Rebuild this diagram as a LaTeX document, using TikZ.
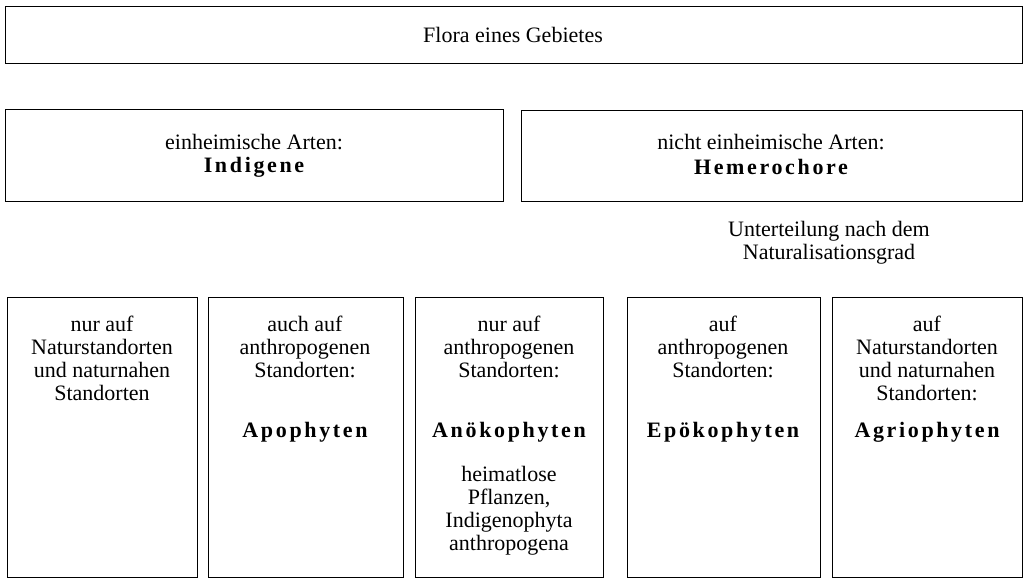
\documentclass[tikz,border=0pt]{standalone}
\usepackage{fontspec}
\setmainfont{Liberation Serif}
\newfontfamily\spacedbold[LetterSpace=12]{Liberation Serif}
\begin{document}
\begin{tikzpicture}[x=1pt,y=-1pt,
  framebox/.style={draw=black, line width=1.1pt, inner sep=0pt, anchor=north west},
  bodytext/.style={inner sep=0pt, align=center, font=\fontsize{22}{23}\selectfont},
  boldname/.style={inner sep=0pt, font=\fontsize{22}{23}\selectfont\spacedbold\bfseries}]
\useasboundingbox[fill=white] (0,0) rectangle (1027,580);
% boxes
\node[framebox, minimum width=1017pt, minimum height=57pt] (flora) at (5,6) {};
\node[framebox, minimum width=498pt, minimum height=92pt] (indig) at (5,109) {};
\node[framebox, minimum width=501pt, minimum height=91pt] (hemer) at (521,110) {};
\node[framebox, minimum width=190pt, minimum height=280pt] (b1) at (7,297) {};
\node[framebox, minimum width=195pt, minimum height=280pt] (b2) at (208,297) {};
\node[framebox, minimum width=188pt, minimum height=280pt] (b3) at (415,297) {};
\node[framebox, minimum width=193pt, minimum height=280pt] (b4) at (627,297) {};
\node[framebox, minimum width=190pt, minimum height=280pt] (b5) at (832,297) {};
% texts
\node[bodytext] (tflora) at (513,35) {Flora eines Gebietes};
\node[bodytext] (tind) at (254,142) {einheimische Arten:};
\node[boldname] (nind) at (254,167) {Indigene};
\node[bodytext] (them) at (771,142) {nicht einheimische Arten:};
\node[boldname] (nhem) at (771,167) {Hemerochore};
\node[bodytext] (tunter) at (829,243) {Unterteilung nach dem\\Naturalisationsgrad};
\node[bodytext] (t1) at (102,358) {nur auf\\Naturstandorten\\und naturnahen\\Standorten};
\node[bodytext] (t2) at (305,347) {auch auf\\anthropogenen\\Standorten:};
\node[boldname] (n2) at (305,432) {Apophyten};
\node[bodytext] (t3) at (509,347) {nur auf\\anthropogenen\\Standorten:};
\node[boldname] (n3) at (509,432) {Anökophyten};
\node[bodytext] (t3b) at (509,511) {heimatlose\\Pflanzen,\\Indigenophyta\\anthropogena};
\node[bodytext] (t4) at (723,347) {auf\\anthropogenen\\Standorten:};
\node[boldname] (n4) at (723,432) {Epökophyten};
\node[bodytext] (t5) at (927,358) {auf\\Naturstandorten\\und naturnahen\\Standorten:};
\node[boldname] (n5) at (927,432) {Agriophyten};
\end{tikzpicture}
\end{document}
